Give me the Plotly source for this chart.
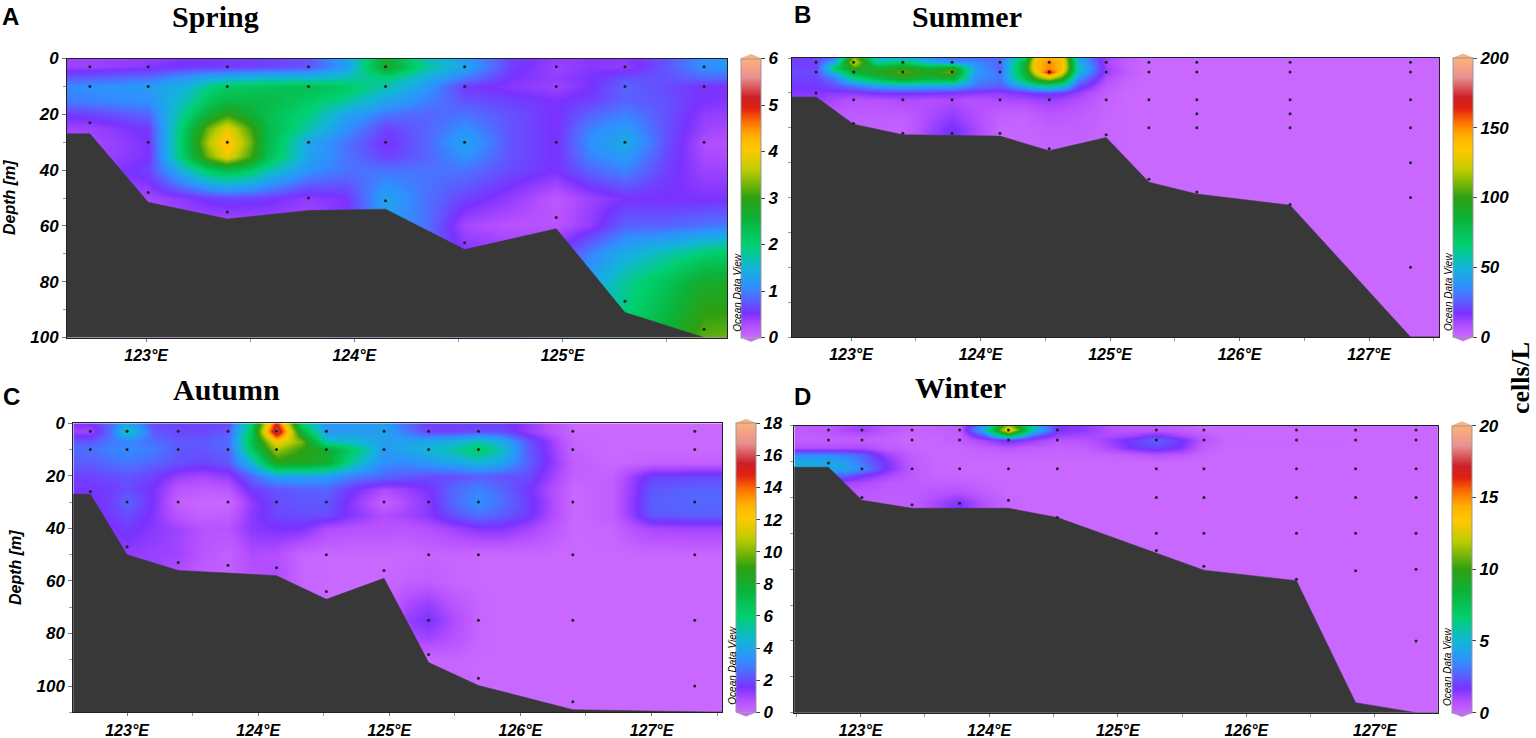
import plotly.graph_objects as go

W, H = 1536, 738

# station positions (lon) and sample depths
lon_a = [122.73, 123.01, 123.39, 123.78, 124.15, 124.53, 124.97, 125.30, 125.68]
depths_a = [[3, 10, 23], [3, 10, 30, 48], [3, 10, 30, 55], [3, 10, 30, 50], [3, 10, 30, 51],
            [3, 10, 30, 66], [3, 10, 30, 57], [3, 10, 30, 87], [3, 10, 30, 97]]
lon_b = [122.73, 123.02, 123.40, 123.78, 124.15, 124.53, 124.97, 125.30, 125.67, 126.39, 127.32]
depths_b = [[3, 10, 25], [3, 10, 30, 47], [3, 10, 30, 54], [3, 10, 30, 54], [3, 10, 30, 54],
            [3, 10, 30, 65], [3, 10, 30, 55], [3, 10, 30, 50, 87], [3, 10, 30, 40, 50, 96],
            [3, 10, 30, 40, 50, 105], [3, 10, 30, 50, 75, 100, 150]]
lon_c = [122.72, 123.0, 123.39, 123.77, 124.14, 124.52, 124.96, 125.30, 125.68, 126.40, 127.33]
depths_c = [[3, 10, 26], [3, 10, 30, 47], [3, 10, 30, 53], [3, 10, 30, 54], [3, 10, 30, 55],
            [3, 10, 30, 50, 64], [3, 10, 30, 56], [3, 10, 30, 50, 75, 88], [3, 10, 30, 50, 75, 97],
            [3, 10, 30, 50, 75, 106], [3, 10, 30, 50, 75, 100]]
lon_d = [122.75, 123.01, 123.40, 123.77, 124.15, 124.53, 125.30, 125.67, 126.39, 126.85, 127.32]
depths_d = [[3, 10, 26], [3, 10, 30, 50], [3, 10, 30, 55], [3, 10, 30, 54], [3, 10, 30, 52],
            [3, 10, 30, 64], [3, 10, 30, 50, 75, 87], [3, 10, 30, 50, 75, 98],
            [3, 10, 30, 50, 75, 107], [3, 10, 30, 50, 75, 101], [3, 10, 30, 50, 75, 100, 150]]

# sea floor outlines
floor_lon_a = [122.5, 122.73, 123.01, 123.39, 123.78, 124.15, 124.53, 124.97, 125.30, 125.68, 125.9]
floor_dep_a = [27, 27, 51.5, 57.5, 54.5, 54, 68.5, 61, 91, 100, 100]
floor_lon_b = [122.5, 122.73, 123.02, 123.40, 123.78, 124.15, 124.53, 124.97, 125.30, 125.67, 126.39, 127.32, 127.6]
floor_dep_b = [28, 28, 47.5, 55, 55.5, 56, 66.5, 57, 89, 97.5, 105.5, 200, 200]
floor_lon_c = [122.5, 122.72, 123.0, 123.39, 123.77, 124.14, 124.52, 124.96, 125.30, 125.68, 126.40, 127.33, 127.6]
floor_dep_c = [27, 27, 50, 56, 57, 58, 67, 59, 91, 99.8, 109, 110, 110]
floor_lon_d = [122.4, 122.75, 123.01, 123.40, 123.77, 124.15, 124.53, 125.30, 125.67, 126.39, 126.85, 127.32, 127.6]
floor_dep_d = [29, 29, 52, 57.5, 57.5, 57.5, 64, 89, 100.7, 108, 193, 200, 200]

# gridded cell concentrations
grid_lon_a = [122.5, 122.73, 123.01, 123.2, 123.3, 123.39, 123.5, 123.58, 123.78, 123.96, 124.15, 124.34, 124.53,
              124.75, 124.97, 125.13, 125.30, 125.49, 125.68, 125.9]
grid_dep_a = [0, 3, 7, 10, 15, 20, 25, 30, 35, 40, 50, 60, 70, 80, 100]
z_a = [
    [.35, .35, .4, .5, .52, .55, .58, .6, .7, 1.3, 2.6, 1.7, 1.2, .6, .4, .45, .45, .7, 1.1, 1.2],
    [.35, .35, .45, .55, .55, .55, .58, .6, .7, 1.2, 2.8, 1.8, 1.3, .6, .35, .45, .4, .7, 1.1, 1.2],
    [.7, .8, .9, 1.2, 1.4, 1.5, 1.55, 1.6, 1.6, 1.7, 1.9, 1.4, .9, .5, .4, .5, .7, .7, .8, .8],
    [1.0, 1.1, 1.2, 1.5, 1.9, 2.1, 2.15, 2.2, 2.3, 2.1, 1.7, 1.2, .55, .45, .35, .5, .8, .65, .5, .5],
    [.9, 1.0, 1.1, 1.7, 2.2, 2.4, 2.4, 2.4, 2.1, 1.8, 1.3, 1.0, .7, .6, .5, .6, .8, .7, .5, .45],
    [.5, .6, .8, 2.0, 2.6, 3.0, 2.6, 2.3, 1.9, 1.3, .9, .8, .9, .7, .5, .8, 1.0, .7, .4, .35],
    [.3, .35, .55, 2.3, 3.3, 3.9, 3.1, 2.4, 1.7, 1.1, .6, .8, 1.1, .7, .5, 1.0, 1.2, .7, .35, .25],
    [.3, .3, .5, 2.4, 3.6, 4.2, 3.3, 2.4, 1.3, .9, .5, .8, 1.3, .7, .5, 1.1, 1.4, .7, .25, .2],
    [.3, .3, .5, 2.3, 3.3, 3.9, 3.1, 2.3, 1.3, .9, .6, .8, 1.1, .7, .5, 1.0, 1.2, .65, .3, .25],
    [.3, .35, .6, 1.6, 2.1, 2.3, 2.1, 1.7, 1.1, .9, .9, .9, .9, .65, .5, .8, 1.0, .6, .35, .35],
    [.3, .3, .3, .45, .55, .6, .58, .55, .4, .5, 1.3, .9, .6, .4, .15, .35, .5, .5, .5, .5],
    [.3, .2, .2, .3, .28, .25, .28, .3, .3, .5, 1.2, .9, .3, .2, .2, .4, .8, .8, .9, 1.0],
    [.3, .2, .2, .3, .3, .3, .3, .3, .3, .5, 1.2, .8, .5, .4, .5, 1.0, 1.4, 1.7, 2.0, 2.2],
    [.3, .2, .2, .3, .3, .3, .3, .3, .3, .5, 1.2, .8, .5, .5, .8, 1.3, 1.8, 2.2, 2.7, 2.7],
    [.3, .2, .2, .3, .3, .3, .3, .3, .3, .5, 1.2, .8, .5, .5, 1.0, 1.5, 2.0, 2.6, 3.2, 3.3],
]

grid_lon_b = [122.5, 122.73, 122.87, 123.02, 123.2, 123.40, 123.6, 123.78, 123.96, 124.15, 124.34, 124.43, 124.53,
              124.63, 124.75, 124.97, 125.13, 125.30, 125.67, 127.6]
grid_dep_b = [0, 3, 7, 10, 15, 20, 25, 30, 40, 50, 60, 200]
z_b = [
    [20, 20, 30, 115, 50, 50, 38, 30, 28, 28, 70, 135, 145, 135, 45, 12, 3, 0, 0, 0],
    [20, 20, 45, 125, 60, 70, 50, 38, 35, 28, 85, 140, 150, 140, 50, 10, 3, 0, 0, 0],
    [20, 20, 70, 100, 90, 100, 85, 100, 40, 25, 90, 140, 150, 140, 55, 12, 3, 0, 0, 0],
    [22, 22, 50, 85, 95, 105, 95, 108, 40, 30, 85, 130, 168, 130, 50, 12, 4, 0, 0, 0],
    [20, 20, 30, 60, 75, 90, 80, 85, 35, 30, 75, 100, 115, 95, 35, 8, 2, 0, 0, 0],
    [18, 18, 22, 30, 40, 45, 42, 42, 30, 25, 45, 55, 62, 52, 22, 5, 1, 0, 0, 0],
    [15, 15, 14, 14, 17, 18, 17, 16, 14, 13, 17, 19, 20, 18, 12, 3, 0, 0, 0, 0],
    [13, 13, 10, 7, 7, 9, 8, 9, 7, 9, 10, 11, 12, 11, 8, 2, 0, 0, 0, 0],
    [10, 10, 5, 4, 4, 4, 9, 13, 8, 3, 2, 4, 6, 5, 4, 1, 0, 0, 0, 0],
    [8, 8, 4, 3, 3, 2, 11, 18, 10, 1.5, 1, 2, 3, 3, 3, 1, 0, 0, 0, 0],
    [6, 6, 4, 3, 3, 2, 12, 18, 10, 1, 1, 1, 2, 2, 2, 1, 0, 0, 0, 0],
    [0, 0, 0, 0, 0, 0, 0, 0, 0, 0, 0, 0, 0, 0, 0, 0, 0, 0, 0, 0],
]

grid_lon_c = [122.5, 122.72, 122.87, 123.0, 123.2, 123.39, 123.58, 123.77, 123.95, 124.14, 124.33, 124.52, 124.74,
              124.96, 125.13, 125.30, 125.49, 125.68, 125.85, 126.05, 126.40, 126.7, 126.85, 127.0, 127.33, 127.6]
grid_dep_c = [0, 3, 7, 10, 15, 20, 25, 30, 35, 40, 50, 60, 68, 75, 82, 90, 110]
z_c = [
    [1.5, 1.5, 2.5, 4, 2, 1.8, 1.8, 2, 6, 15, 6, 3.5, 3.5, 3.7, 2.5, 1.8, 1.8, 1.8, 1.8, 1.2, 0, 0, 0, 0, 0, 0],
    [1, 1, 2.6, 5.2, 2.2, 1.9, 1.9, 2.2, 6.5, 16.5, 7.5, 3.5, 3.6, 3.8, 2.8, 1.8, 1.8, 2, 2, 1.2, 0, 0, 0, 0, 0, 0],
    [2.2, 2.2, 2.8, 3, 2.6, 2.2, 2.2, 2.6, 6.8, 12, 10, 5, 4.5, 3.8, 3.8, 4, 4.3, 5, 4.2, 2.2, .1, 0, 0, 0, 0, 0],
    [2.6, 2.6, 3, 3.2, 2.9, 2.2, 2.1, 2.4, 6.3, 10.5, 9, 8, 6, 3.6, 4, 4.5, 5.2, 6.3, 5, 2.3, .15, 0, 0, 0, 0, 0],
    [2.3, 2.3, 2.6, 2.8, 2.4, 2.1, 1.9, 2.2, 4.5, 8.5, 8.5, 8, 5, 3.2, 3.2, 3.6, 4, 4.5, 4, 2.4, .3, 0, .1, .2, .2, .2],
    [1.8, 1.8, 2, 2.1, 1.8, 1.1, .9, 1.2, 2.4, 3.8, 3.8, 3.6, 2.8, 2.5, 2.2, 2, 2, 2.3, 2.1, 2, .2, .2, 1.1, 1.8, 1.9, 1.9],
    [1.6, 1.6, 1.7, 2, 1.5, .5, .3, .5, 1.7, 2.1, 2.3, 2.4, 1.5, .8, 1.1, 1.5, 2.5, 3, 2.5, 1.6, 0, .3, 1.2, 2.2, 2.4, 2.4],
    [1.4, 1.4, 1.8, 2.4, 1.5, .2, 0, 0, 1.2, 2, 2.2, 2.2, 1.2, .2, .8, 1.3, 2.5, 3.3, 2.7, 1.8, 0, .3, 1.3, 2.3, 2.5, 2.5],
    [1.3, 1.3, 1.7, 2, 1.4, .5, .2, .3, 1.3, 1.9, 2, 2, 1.3, .7, 1, 1.3, 2.1, 2.6, 2.3, 1.7, 0, .3, 1.2, 2.2, 2.3, 2.3],
    [1.2, 1.2, 1.4, 1.7, 1.3, 1, .6, .6, 1.3, 1.5, 1.5, .8, .6, .6, .5, .7, 1, 1.4, 1.4, 1, 0, .1, .6, .9, 1, 1],
    [1, 1, 1.2, 1.2, 1.1, 1, .5, .2, .8, .7, .1, 0, 0, 0, 0, .1, .1, 0, 0, 0, 0, 0, 0, 0, 0, 0],
    [1, 1, 1, 1, 1, .6, .2, .3, .6, .8, .1, 0, 0, 0, .2, .3, .1, 0, 0, 0, 0, 0, 0, 0, 0, 0],
    [1, 1, 1, 1, 1, .6, .2, .3, .6, .8, .1, 0, 0, 0, .8, 1.1, .5, .1, 0, 0, 0, 0, 0, 0, 0, 0],
    [1, 1, 1, 1, 1, .6, .2, .3, .6, .8, .1, 0, 0, 0, 1.1, 1.5, .8, .1, 0, 0, 0, 0, 0, 0, 0, 0],
    [1, 1, 1, 1, 1, .6, .2, .3, .6, .8, .1, 0, 0, 0, .8, 1, .6, .1, 0, 0, 0, 0, 0, 0, 0, 0],
    [1, 1, 1, 1, 1, .6, .2, .3, .6, .8, .1, 0, 0, 0, 0, 0, .1, 0, 0, 0, 0, 0, 0, 0, 0, 0],
    [0, 0, 0, 0, 0, 0, 0, 0, 0, 0, 0, 0, 0, 0, 0, 0, 0, 0, 0, 0, 0, 0, 0, 0, 0, 0],
]

grid_lon_d = [122.4, 122.75, 122.88, 123.01, 123.2, 123.40, 123.58, 123.77, 123.96, 124.15, 124.34, 124.53, 124.75,
              124.95, 125.13, 125.30, 125.49, 125.67, 125.85, 127.6]
grid_dep_d = [0, 3, 7, 10, 15, 20, 25, 30, 35, 40, 46, 54, 60, 200]
z_d = [
    [.3, .5, .9, 1.1, .5, .2, .2, .3, 4, 12, 5, 1.7, 1.4, .6, .5, .5, .3, 0, 0, 0],
    [.3, .5, 1, 1.2, .5, .2, .2, .4, 5, 14, 5.5, 1.7, 1.4, .7, .5, .6, .4, 0, 0, 0],
    [.3, .4, .5, .6, .3, .05, .1, .3, 2.5, 7.5, 2.5, 1.2, 1, .9, 1.2, 1.8, 1, .4, 0, 0],
    [.3, .3, .3, .3, .2, 0, .1, .3, 1.1, 2, 1.3, .6, .7, 1.3, 2, 2.6, 1.9, .5, .05, 0],
    [.8, .8, .9, .9, .4, .1, .05, .1, .3, .6, .3, .2, .3, 1, 1.8, 2.1, 1.6, .3, 0, 0],
    [3.5, 3.5, 3.2, 2.7, 1.2, .3, .05, .05, .1, .1, .1, .1, .1, .2, .4, .7, .5, .05, 0, 0],
    [4.5, 4.5, 4.1, 3, 1.6, .35, .05, 0, 0, 0, 0, 0, 0, 0, 0, 0, 0, 0, 0, 0],
    [4.5, 4.5, 4.3, 3.5, 1.7, .4, .1, 0, 0, 0, 0, 0, 0, 0, 0, 0, 0, 0, 0, 0],
    [2.5, 2.5, 2.5, 1.7, 1, .4, .1, .05, 0, 0, 0, 0, 0, 0, 0, 0, 0, 0, 0, 0],
    [1.2, 1.2, 1.1, .9, .5, .35, .3, .3, .1, 0, 0, 0, 0, 0, 0, 0, 0, 0, 0, 0],
    [.5, .5, .5, .5, .4, .4, .6, .7, .3, 0, 0, 0, 0, 0, 0, 0, 0, 0, 0, 0],
    [.5, .5, .5, .4, .3, .35, 1, 1.7, .7, .05, 0, 0, 0, 0, 0, 0, 0, 0, 0, 0],
    [.5, .5, .5, .4, .3, .3, 1, 1.6, .6, 0, 0, 0, 0, 0, 0, 0, 0, 0, 0, 0],
    [0, 0, 0, 0, 0, 0, 0, 0, 0, 0, 0, 0, 0, 0, 0, 0, 0, 0, 0, 0],
]

cbar_ticks_a = [0, 1, 2, 3, 4, 5, 6]
cbar_ticks_b = [0, 50, 100, 150, 200]
cbar_ticks_c = [0, 2, 4, 6, 8, 10, 12, 14, 16, 18]
cbar_ticks_d = [0, 5, 10, 15, 20]
depth_ticks_a = [0, 20, 40, 60, 80, 100]
depth_ticks_c = [0, 20, 40, 60, 80, 100]
lon_ticks = [123, 124, 125, 126, 127]
lon_labels = ["123°E", "124°E", "125°E", "126°E", "127°E"]

# ODV style rainbow
odv = [[0, "#c868ff"], [.04, "#b44eff"], [.085, "#7a32ff"], [.13, "#5a60ff"], [.18, "#2f90ff"], [.25, "#12b5d8"],
       [.33, "#00d070"], [.42, "#0bb33a"], [.5, "#2ea012"], [.6, "#c0cc00"], [.67, "#ffc800"], [.72, "#ffb000"],
       [.77, "#ff7000"], [.82, "#e02010"], [.86, "#cc2028"], [.93, "#e89090"], [1, "#ffb27a"]]

SANS = "Liberation Sans"
SERIF = "Liberation Serif"
FLOOR = "#383838"


def fx(px):
    return px / W


def fy(py):
    return 1 - py / H


fig = go.Figure()
annots = []
shapes = []


def label(text, x, y, size, family=SANS, angle=0, bold=True, italic=False):
    annots.append(dict(text=text, x=fx(x), y=fy(y), xref="paper", yref="paper", showarrow=False, textangle=angle,
                       xanchor="center", yanchor="middle",
                       font=dict(family=family, size=size, color="black", weight="bold" if bold else "normal",
                                 style="italic" if italic else "normal")))


def panel(n, box, xrange, ymax, grid_x, grid_y, z, zmax, stations, depths, floor_x, floor_y,
          cbar_x, cbar_ticks, ytick_step, ylabels):
    left, top, right, bottom = box
    xa, ya = f"x{n}", f"y{n}"
    fig.add_trace(go.Heatmap(
        x=grid_x, y=grid_y, z=z, zmin=0, zmax=zmax, colorscale=odv, zsmooth="best", xaxis=xa, yaxis=ya,
        colorbar=dict(x=fx(cbar_x), xanchor="left", xpad=0, ypad=0, y=fy(bottom), yanchor="bottom",
                      len=(bottom - top) / H, thickness=20, outlinecolor="#999999", outlinewidth=1,
                      tickvals=cbar_ticks, ticks="outside", ticklen=4, tickcolor="#444444",
                      tickfont=dict(family=SANS, size=17, color="black", weight="bold", style="italic"))))
    fig.add_trace(go.Scatter(
        x=floor_x + [floor_x[-1], floor_x[0]], y=floor_y + [ymax, ymax], mode="lines", fill="toself", fillcolor=FLOOR,
        line=dict(color=FLOOR, width=0.5), xaxis=xa, yaxis=ya, showlegend=False))
    xs, ys = [], []
    for lon, col in zip(stations, depths):
        xs += [lon] * len(col)
        ys += col
    fig.add_trace(go.Scatter(x=xs, y=ys, mode="markers", marker=dict(size=3, color="#222222"), xaxis=xa, yaxis=ya,
                             showlegend=False))
    axis_name = "" if n == 1 else str(n)
    fig.layout["xaxis" + axis_name] = dict(
        domain=[fx(left), fx(right)], range=xrange, anchor=ya, showgrid=False, zeroline=False, showline=True,
        mirror=True, linecolor="#222222", linewidth=1, tickvals=lon_ticks, ticktext=lon_labels, ticks="outside",
        ticklen=3, tickcolor="#777777", tickfont=dict(family=SANS, size=16, color="black", weight="bold", style="italic"),
        minor=dict(dtick=0.5, tick0=122.5, ticks="outside", ticklen=3, tickcolor="#999999"))
    fig.layout["yaxis" + axis_name] = dict(
        domain=[fy(bottom), fy(top)], range=[ymax, 0], anchor=xa, showgrid=False, zeroline=False, showline=True,
        mirror=True, linecolor="#222222", linewidth=1, tickvals=ylabels if ylabels else [], ticks="outside", ticklen=4,
        tickcolor="#777777", tickfont=dict(family=SANS, size=17, color="black", weight="bold", style="italic"),
        minor=dict(dtick=ytick_step, tick0=0, ticks="outside", ticklen=3, tickcolor="#999999"))
    # arrow caps of the colour bar
    cl, cr, cm = fx(cbar_x), fx(cbar_x + 20), fx(cbar_x + 10)
    shapes.append(dict(type="path", xref="paper", yref="paper", line=dict(color="#cfa080", width=0.5), fillcolor="#ffb27a",
                       path=f"M {cl} {fy(top)} L {cm} {fy(top - 4)} L {cr} {fy(top)} Z"))
    shapes.append(dict(type="path", xref="paper", yref="paper", line=dict(color="#b080e0", width=0.5), fillcolor="#c868ff",
                       path=f"M {cl} {fy(bottom)} L {cm} {fy(bottom + 4)} L {cr} {fy(bottom)} Z"))


panel(1, (67, 58.5, 727, 337.5), [122.62, 125.79], 100, grid_lon_a, grid_dep_a, z_a, 6, lon_a, depths_a,
      floor_lon_a, floor_dep_a, 741, cbar_ticks_a, 10, depth_ticks_a)
panel(2, (792, 58, 1439, 337), [122.544, 127.54], 200, grid_lon_b, grid_dep_b, z_b, 200, lon_b, depths_b,
      floor_lon_b, floor_dep_b, 1453, cbar_ticks_b, 25, None)
panel(3, (73.3, 423.3, 722.3, 712.3), [122.59, 127.54], 110, grid_lon_c, grid_dep_c, z_c, 18, lon_c, depths_c,
      floor_lon_c, floor_dep_c, 736, cbar_ticks_c, 10, depth_ticks_c)
panel(4, (794.3, 425.7, 1437.9, 712.7), [122.484, 127.49], 200, grid_lon_d, grid_dep_d, z_d, 20, lon_d, depths_d,
      floor_lon_d, floor_dep_d, 1452, cbar_ticks_d, 25, None)

for txt, x, y in [("A", 10, 16), ("B", 802, 15), ("C", 11, 396), ("D", 802, 396)]:
    label(txt, x, y, 24)
for txt, x, y in [("Spring", 215, 17), ("Summer", 967, 17), ("Autumn", 226, 389), ("Winter", 960, 387)]:
    label(txt, x, y, 30, family=SERIF)
for x, y in [(736.7, 293), (1449, 292), (731.7, 666), (1447, 667)]:
    label("Ocean Data View", x, y, 10, angle=-90, bold=False, italic=True)
label("Depth [m]", 9, 198, 16, angle=-90, italic=True)
label("Depth [m]", 15, 568, 16, angle=-90, italic=True)
label("cells/L", 1520, 378, 26, family=SERIF, angle=-90)

fig.update_layout(width=W, height=H, margin=dict(l=0, r=0, t=0, b=0, autoexpand=False), paper_bgcolor="white",
                  plot_bgcolor="white", showlegend=False, annotations=annots, shapes=shapes)

# page margin off so the plot sits at the window corner
fig.write_html("out.html", post_script="document.body.style.margin='0';", config={"displayModeBar": False})
